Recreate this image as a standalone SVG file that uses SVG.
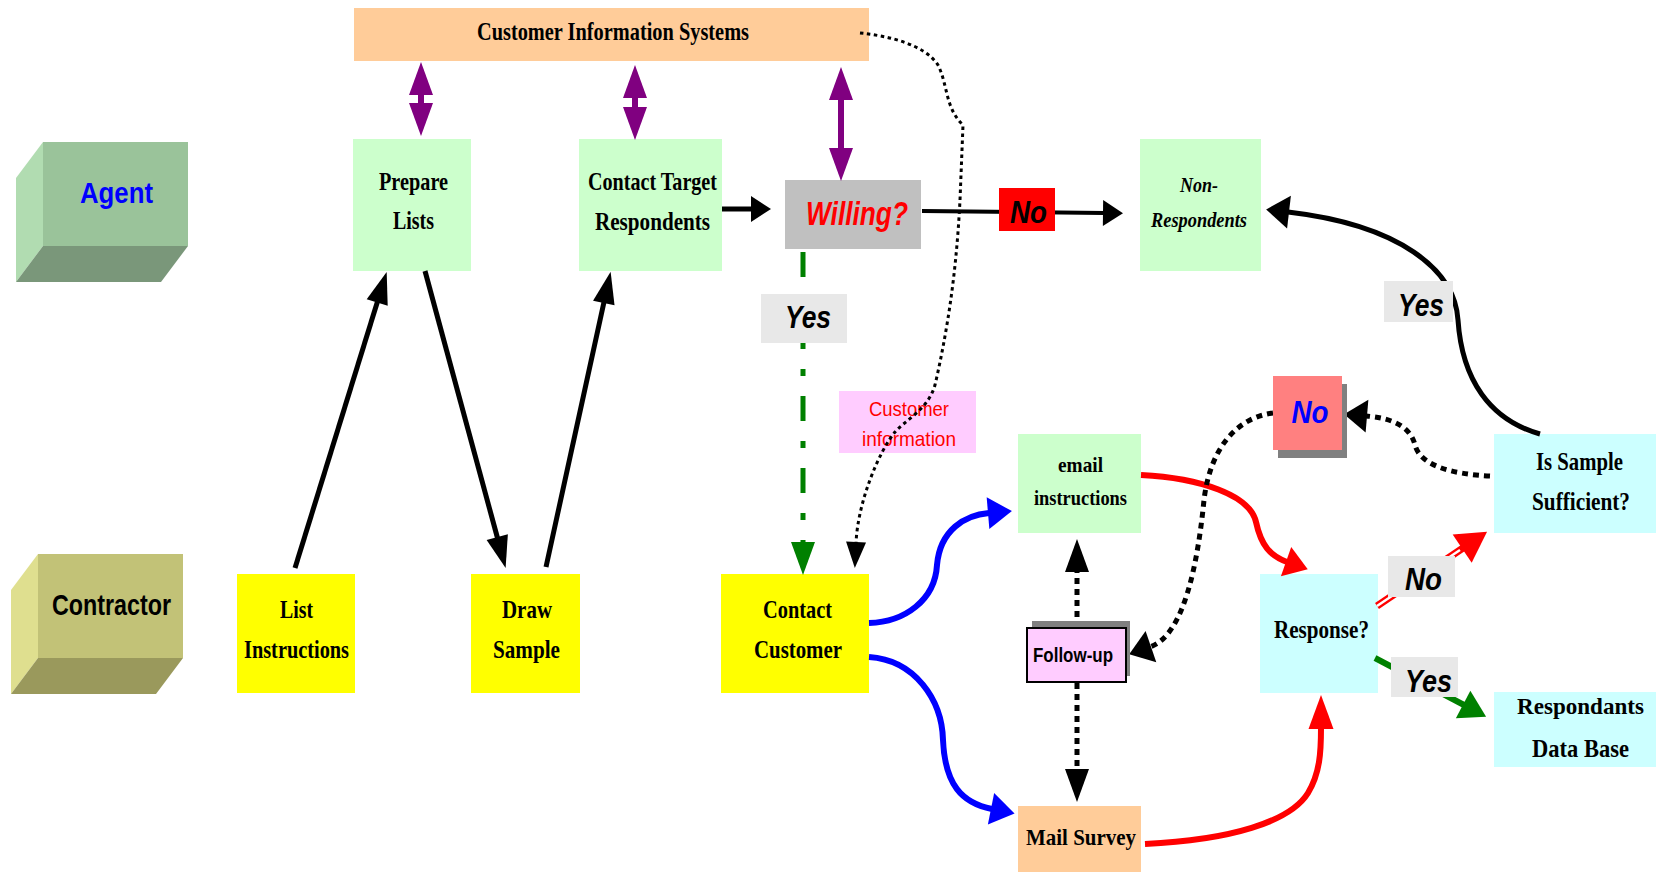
<svg xmlns="http://www.w3.org/2000/svg" width="1656" height="872" viewBox="0 0 1656 872">
<style>
.serif{font-family:"Liberation Serif","Times New Roman",serif;font-weight:bold;font-size:26px;fill:#000}
.it{font-style:italic;font-size:22px}
.sans{font-family:"Liberation Sans",Arial,sans-serif;font-weight:bold;fill:#000}
.lbl{font-size:32px;font-style:italic}
.green{fill:#ccffcc}
.yellow{fill:#ffff00}
.cyan{fill:#ccffff}
.peach{fill:#ffcc99}
.grey{fill:#e8e8e8}
.k{fill:none;stroke:#000}
.dot{fill:none;stroke:#000;stroke-width:5;stroke-dasharray:6 5}
</style>
<defs>
<marker id="ak1" markerUnits="userSpaceOnUse" markerWidth="20" markerHeight="26" refX="1" refY="13" orient="auto" overflow="visible"><path d="M0,0 L20,13 L0,26 z" fill="#000"/></marker>
<marker id="ak2" markerUnits="userSpaceOnUse" markerWidth="32" markerHeight="22" refX="1" refY="11" orient="auto" overflow="visible"><path d="M0,0 L32,11 L0,22 z" fill="#000"/></marker>
<marker id="ak3" markerUnits="userSpaceOnUse" markerWidth="23" markerHeight="33" refX="1" refY="16.5" orient="auto" overflow="visible"><path d="M0,0 L23,16.5 L0,33 z" fill="#000"/></marker>
<marker id="ak4" markerUnits="userSpaceOnUse" markerWidth="33" markerHeight="24" refX="1" refY="12" orient="auto" overflow="visible"><path d="M0,0 L33,12 L0,24 z" fill="#000"/></marker>
<marker id="ak5" markerUnits="userSpaceOnUse" markerWidth="26" markerHeight="20" refX="1" refY="10" orient="auto" overflow="visible"><path d="M0,0 L26,10 L0,20 z" fill="#000"/></marker>
<marker id="ap" markerUnits="userSpaceOnUse" markerWidth="33" markerHeight="24" refX="1" refY="12" orient="auto-start-reverse" overflow="visible"><path d="M0,0 L33,12 L0,24 z" fill="#800080"/></marker>
<marker id="ab" markerUnits="userSpaceOnUse" markerWidth="24" markerHeight="32" refX="1" refY="16" orient="auto" overflow="visible"><path d="M0,0 L24,16 L0,32 z" fill="#0000ff"/></marker>
<marker id="ar1" markerUnits="userSpaceOnUse" markerWidth="23" markerHeight="31" refX="1" refY="15.5" orient="auto" overflow="visible"><path d="M0,0 L23,15.5 L0,31 z" fill="#ff0000"/></marker>
<marker id="ar2" markerUnits="userSpaceOnUse" markerWidth="34" markerHeight="25" refX="1" refY="12.5" orient="auto" overflow="visible"><path d="M0,0 L34,12.5 L0,25 z" fill="#ff0000"/></marker>
<marker id="ar3" markerUnits="userSpaceOnUse" markerWidth="30" markerHeight="34" refX="1" refY="17" orient="auto" overflow="visible"><path d="M0,0 L30,17 L0,34 z" fill="#ff0000"/></marker>
<marker id="ag1" markerUnits="userSpaceOnUse" markerWidth="33" markerHeight="24" refX="1" refY="12" orient="auto" overflow="visible"><path d="M0,0 L33,12 L0,24 z" fill="#008000"/></marker>
<marker id="ag2" markerUnits="userSpaceOnUse" markerWidth="26" markerHeight="31" refX="1" refY="15.5" orient="auto" overflow="visible"><path d="M0,0 L26,15.5 L0,31 z" fill="#008000"/></marker>
</defs>
<rect width="1656" height="872" fill="#fff"/>

<g id="nodes">
<g id="cis"><rect x="354" y="8" width="515" height="53" class="peach"/><text class="serif" x="477" y="40" textLength="272" lengthAdjust="spacingAndGlyphs">Customer Information Systems</text></g>
<g id="agent">
<polygon points="16,178 43,142 43,246 16,282" fill="#b1dcb1"/>
<polygon points="16,282 161,282 188,246 43,246" fill="#7a977a"/>
<rect x="43" y="142" width="145" height="104" fill="#9ac39a"/>
<text class="sans" x="80" y="203" font-size="30" style="fill:#0000ff" textLength="73" lengthAdjust="spacingAndGlyphs">Agent</text>
</g>
<g id="contractor">
<polygon points="11,590 38,554 38,658 11,694" fill="#dfdf8f"/>
<polygon points="11,694 156,694 183,658 38,658" fill="#9a995c"/>
<rect x="38" y="554" width="145" height="104" fill="#c2c277"/>
<text class="sans" x="52" y="615" font-size="30" textLength="119" lengthAdjust="spacingAndGlyphs">Contractor</text>
</g>
<g id="prepare"><rect x="353" y="139" width="118" height="132" class="green"/><text class="serif" x="379" y="190" textLength="69" lengthAdjust="spacingAndGlyphs">Prepare</text><text class="serif" x="393" y="229" textLength="41" lengthAdjust="spacingAndGlyphs">Lists</text></g>
<g id="contact-target"><rect x="579" y="139" width="143" height="132" class="green"/><text class="serif" x="588" y="190" textLength="129" lengthAdjust="spacingAndGlyphs">Contact Target</text><text class="serif" x="595" y="230" textLength="115" lengthAdjust="spacingAndGlyphs">Respondents</text></g>
<g id="willing"><rect x="785" y="180" width="136" height="69" fill="#c0c0c0"/><text class="sans" x="806" y="225" font-size="34" font-style="italic" style="fill:#ff0000" textLength="102" lengthAdjust="spacingAndGlyphs">Willing?</text></g>
<g id="non-respondents"><rect x="1140" y="139" width="121" height="132" class="green"/><text class="serif it" x="1180" y="192" textLength="38" lengthAdjust="spacingAndGlyphs">Non-</text><text class="serif it" x="1151" y="227" textLength="96" lengthAdjust="spacingAndGlyphs">Respondents</text></g>
<g id="is-sample"><rect x="1494" y="434" width="162" height="99" class="cyan"/><text class="serif" x="1536" y="470" textLength="87" lengthAdjust="spacingAndGlyphs">Is Sample</text><text class="serif" x="1532" y="510" textLength="98" lengthAdjust="spacingAndGlyphs">Sufficient?</text></g>
<g id="customer-info"><rect x="839" y="391" width="137" height="62" fill="#ffccff"/><text x="869" y="416" font-family="Liberation Sans, Arial, sans-serif" font-size="21" fill="#ff0000" textLength="80" lengthAdjust="spacingAndGlyphs">Customer</text><text x="862" y="446" font-family="Liberation Sans, Arial, sans-serif" font-size="21" fill="#ff0000" textLength="94" lengthAdjust="spacingAndGlyphs">information</text></g>
<g id="email"><rect x="1018" y="434" width="123" height="99" class="green"/><text class="serif" style="font-size:22px" x="1058" y="472" textLength="45" lengthAdjust="spacingAndGlyphs">email</text><text class="serif" style="font-size:22px" x="1034" y="505" textLength="93" lengthAdjust="spacingAndGlyphs">instructions</text></g>
<g id="list-instructions"><rect x="237" y="574" width="118" height="119" class="yellow"/><text class="serif" x="280" y="618" textLength="33" lengthAdjust="spacingAndGlyphs">List</text><text class="serif" x="244" y="658" textLength="105" lengthAdjust="spacingAndGlyphs">Instructions</text></g>
<g id="draw-sample"><rect x="471" y="574" width="109" height="119" class="yellow"/><text class="serif" x="502" y="618" textLength="50" lengthAdjust="spacingAndGlyphs">Draw</text><text class="serif" x="493" y="658" textLength="67" lengthAdjust="spacingAndGlyphs">Sample</text></g>
<g id="contact-customer"><rect x="721" y="574" width="148" height="119" class="yellow"/><text class="serif" x="763" y="618" textLength="69" lengthAdjust="spacingAndGlyphs">Contact</text><text class="serif" x="754" y="658" textLength="88" lengthAdjust="spacingAndGlyphs">Customer</text></g>
<g id="response"><rect x="1260" y="574" width="118" height="119" class="cyan"/><text class="serif" x="1274" y="638" textLength="95" lengthAdjust="spacingAndGlyphs">Response?</text></g>
<g id="respondants-db"><rect x="1494" y="692" width="162" height="75" class="cyan"/><text class="serif" style="font-size:24px" x="1517" y="714" textLength="127" lengthAdjust="spacingAndGlyphs">Respondants</text><text class="serif" x="1532" y="757" textLength="97" lengthAdjust="spacingAndGlyphs">Data Base</text></g>
<g id="mail-survey"><rect x="1018" y="806" width="123" height="66" class="peach"/><text class="serif" style="font-size:24px" x="1026" y="845" textLength="110" lengthAdjust="spacingAndGlyphs">Mail Survey</text></g>
</g>

<g id="connectors">
<path d="M421,94 L421,104" stroke="#800080" stroke-width="6" marker-start="url(#ap)" marker-end="url(#ap)"/>
<path d="M635,97 L635,108" stroke="#800080" stroke-width="6" marker-start="url(#ap)" marker-end="url(#ap)"/>
<path d="M841,99 L841,149" stroke="#800080" stroke-width="6" marker-start="url(#ap)" marker-end="url(#ap)"/>
<path d="M722,209 L752,209" class="k" stroke-width="5" marker-end="url(#ak1)"/>
<path d="M922,211 L1104,213" class="k" stroke-width="4" marker-end="url(#ak1)"/>
<path d="M295,568 L377.5,301.6" class="k" stroke-width="5" marker-end="url(#ak2)"/>
<path d="M425,271 L497.5,538" class="k" stroke-width="5" marker-end="url(#ak2)"/>
<path d="M546,567 L604,302" class="k" stroke-width="5" marker-end="url(#ak2)"/>
<path d="M803,252 L803,543" fill="none" stroke="#008000" stroke-width="5" stroke-dasharray="25 20 7 20" marker-end="url(#ag1)"/>
<path d="M860,33 C890,36 925,45 938,65 C948,85 945,108 963,125 L960,200 C957,260 950,320 935,385 C928,410 905,420 895,432 C880,450 858,500 856,543" class="k" stroke-width="3" stroke-dasharray="3.5 3.5" marker-end="url(#ak5)"/>
<path d="M869,623 C905,622 935,600 937,565 C940,530 965,515 989,513" fill="none" stroke="#0000ff" stroke-width="6" marker-end="url(#ab)"/>
<path d="M869,657 C915,660 942,700 943,740 C945,785 962,803 992,809" fill="none" stroke="#0000ff" stroke-width="6" marker-end="url(#ab)"/>
<path d="M1141,475 C1200,478 1250,495 1256,522 C1261,545 1270,556 1287,562" fill="none" stroke="#ff0000" stroke-width="6" marker-end="url(#ar1)"/>
<path d="M1145,844 C1230,840 1290,822 1308,793 C1320,773 1321,752 1321,728" fill="none" stroke="#ff0000" stroke-width="6" marker-end="url(#ar2)"/>
<path d="M1377,606 L1463,548" fill="none" stroke="#ff0000" stroke-width="7" marker-end="url(#ar3)"/>
<path d="M1377,606 L1460,550" fill="none" stroke="#ffffff" stroke-width="2.5"/>
<path d="M1375,658 L1464,705" fill="none" stroke="#008000" stroke-width="6" marker-end="url(#ag2)"/>
<path d="M1540,434 C1490,420 1462,380 1458,320 C1455,270 1400,225 1288,212" class="k" stroke-width="5" marker-end="url(#ak3)"/>
<path d="M1490,476 C1450,474 1420,465 1415,445 C1410,425 1390,418 1366,416" class="dot" marker-end="url(#ak3)"/>
<path d="M1273,413 C1235,418 1210,450 1204,500 C1198,560 1185,635 1150,647" class="dot" marker-end="url(#ak3)"/>
<path d="M1077,628 L1077,571" class="dot" marker-end="url(#ak4)"/>
<path d="M1077,683 L1077,770" class="dot" marker-end="url(#ak4)"/>
</g>

<g id="labels">
<g id="no-red"><rect x="999" y="188" width="56" height="43" fill="#ff0000"/><text class="sans lbl" x="1010" y="223" textLength="37" lengthAdjust="spacingAndGlyphs">No</text></g>
<g id="yes-willing"><rect x="761" y="294" width="86" height="49" class="grey"/><text class="sans lbl" x="785" y="328" textLength="46" lengthAdjust="spacingAndGlyphs">Yes</text></g>
<g id="yes-sufficient"><rect x="1384" y="281" width="69" height="41" class="grey"/><text class="sans lbl" x="1398" y="316" textLength="46" lengthAdjust="spacingAndGlyphs">Yes</text></g>
<g id="no-sufficient"><rect x="1278" y="384" width="69" height="74" fill="#808080"/><rect x="1273" y="376" width="69" height="74" fill="#ff8080"/><text class="sans lbl" x="1291.5" y="423" style="fill:#0000ff" textLength="37" lengthAdjust="spacingAndGlyphs">No</text></g>
<g id="follow-up"><rect x="1032" y="621" width="98" height="55" fill="#808080"/><rect x="1027" y="628" width="99" height="54" fill="#ffccff" stroke="#000" stroke-width="2"/><text class="sans" font-size="21" x="1033" y="662" textLength="80" lengthAdjust="spacingAndGlyphs">Follow-up</text></g>
<g id="no-response"><rect x="1388" y="556" width="67" height="41" class="grey"/><text class="sans lbl" x="1405" y="590" textLength="37" lengthAdjust="spacingAndGlyphs">No</text></g>
<g id="yes-response"><rect x="1391" y="657" width="67" height="40" class="grey"/><text class="sans lbl" x="1405" y="692" textLength="47" lengthAdjust="spacingAndGlyphs">Yes</text></g>
</g>
</svg>
